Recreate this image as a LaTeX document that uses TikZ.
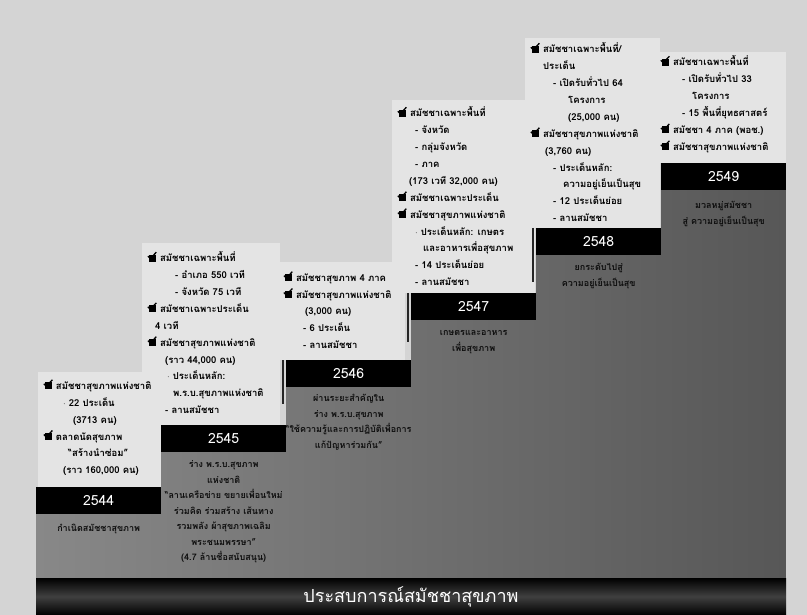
\documentclass[tikz,border=0pt]{standalone}
\usepackage{fontspec}
\setmainfont[Script=Thai]{Loma}
\usetikzlibrary{positioning}
\definecolor{paper}{HTML}{D4D4D4}
\definecolor{panel}{HTML}{E4E4E4}
\definecolor{bodyleft}{HTML}{888888}
\definecolor{bodyright}{HTML}{575757}
\definecolor{ink}{HTML}{0E0E0E}
\newcommand{\chk}{\tikz[baseline=0pt]{\fill[black] (0pt,0pt) rectangle (7pt,7pt);
    \draw[black,line width=1.3pt] (-1pt,5.5pt) -- (1.5pt,3pt) -- (7.5pt,9.5pt);}\hspace{3pt}}
\newcommand{\dotitem}{$\cdot$\hspace{3pt}}
\tikzset{
  yearbar/.style={fill=black, text=white, anchor=north west, inner sep=0pt,
    minimum width=125pt, minimum height=27pt, font=\fontsize{14}{14}\selectfont},
  notes/.style={anchor=south west, align=left, inner sep=0pt, text=black,
    font=\bfseries\fontsize{9.5}{16.9}\selectfont},
  caption/.style={align=center, inner sep=0pt, text=ink,
    font=\bfseries\fontsize{9}{15.5}\selectfont},
  shadowline/.style={line width=2.5pt, black!85},
}
\begin{document}
\begin{tikzpicture}[x=1pt, y=-1pt]
  \def\base{578}
  \fill[paper] (0,0) rectangle (807,615);
  \useasboundingbox (0,0) rectangle (807,615);
  % light panels behind the notes
  \fill[panel] (38,372) rectangle (161,487);
  \fill[panel] (142,243) rectangle (280,425);
  \fill[panel] (278,262) rectangle (405,360);
  \fill[panel] (392,100) rectangle (535,293);
  \fill[panel] (525,38) rectangle (660,228);
  \fill[panel] (652,52) rectangle (786,163);
  % staircase
  \shade[left color=bodyleft, right color=bodyright]
    (36,\base) -- (36,514) -- (161,514) -- (161,452) -- (286,452) -- (286,387)
    -- (411,387) -- (411,320) -- (536,320) -- (536,255) -- (661,255) -- (661,190)
    -- (786,190) -- (786,\base) -- cycle;
  \draw[shadowline] (283,360) -- (283,404);
  \draw[shadowline] (408,293) -- (408,342);
  \draw[shadowline] (533,228) -- (533,282);
  % year bars
  \node[yearbar] (b2544) at (36,487) {2544};
  \node[yearbar] (b2545) at (161,425) {2545};
  \node[yearbar] (b2546) at (286,360) {2546};
  \node[yearbar] (b2547) at (411,293) {2547};
  \node[yearbar] (b2548) at (536,228) {2548};
  \node[yearbar] (b2549) at (661,163) {2549};
  % notes above the bars
  \node[notes] (n2544) at (43,476) {\chk สมัชชาสุขภาพแห่งชาติ\\
    \hspace*{20pt}\dotitem 22 ประเด็น\\
    \hspace*{30pt}(3713 คน)\\
    \chk ตลาดนัดสุขภาพ\\
    \hspace*{25pt}“สร้างนำซ่อม”\\
    \hspace*{20pt}(ราว 160,000 คน)};
  \node[notes] (n2545) at (147,414) {\chk สมัชชาเฉพาะพื้นที่\\
    \hspace*{28pt}- อำเภอ 550 เวที\\
    \hspace*{28pt}- จังหวัด 75 เวที\\
    \chk สมัชชาเฉพาะประเด็น\\
    \hspace*{8pt}4 เวที\\
    \chk สมัชชาสุขภาพแห่งชาติ\\
    \hspace*{18pt}(ราว 44,000 คน)\\
    \hspace*{20pt}\dotitem ประเด็นหลัก:\\
    \hspace*{26pt}พ.ร.บ.สุขภาพแห่งชาติ\\
    \hspace*{18pt}- ลานสมัชชา};
  \node[notes] (n2546) at (283,349) {\chk สมัชชาสุขภาพ 4 ภาค\\
    \chk สมัชชาสุขภาพแห่งชาติ\\
    \hspace*{22pt}(3,000 คน)\\
    \hspace*{20pt}- 6 ประเด็น\\
    \hspace*{20pt}- ลานสมัชชา};
  \node[notes] (n2547) at (397,286) {\chk สมัชชาเฉพาะพื้นที่\\
    \hspace*{18pt}- จังหวัด\\
    \hspace*{18pt}- กลุ่มจังหวัด\\
    \hspace*{18pt}- ภาค\\
    \hspace*{12pt}(173 เวที 32,000 คน)\\
    \chk สมัชชาเฉพาะประเด็น\\
    \chk สมัชชาสุขภาพแห่งชาติ\\
    \hspace*{18pt}\dotitem ประเด็นหลัก: เกษตร\\
    \hspace*{26pt}และอาหารเพื่อสุขภาพ\\
    \hspace*{18pt}- 14 ประเด็นย่อย\\
    \hspace*{18pt}- ลานสมัชชา};
  \node[notes] (n2548) at (530,222) {\chk สมัชชาเฉพาะพื้นที่/\\
    \hspace*{13pt}ประเด็น\\
    \hspace*{23pt}- เปิดรับทั่วไป 64\\
    \hspace*{38pt}โครงการ\\
    \hspace*{38pt}(25,000 คน)\\
    \chk สมัชชาสุขภาพแห่งชาติ\\
    \hspace*{15pt}(3,760 คน)\\
    \hspace*{23pt}- ประเด็นหลัก:\\
    \hspace*{33pt}ความอยู่เย็นเป็นสุข\\
    \hspace*{23pt}- 12 ประเด็นย่อย\\
    \hspace*{23pt}- ลานสมัชชา};
  \node[notes] (n2549) at (660,153) {\chk สมัชชาเฉพาะพื้นที่\\
    \hspace*{22pt}- เปิดรับทั่วไป 33\\
    \hspace*{32pt}โครงการ\\
    \hspace*{22pt}- 15 พื้นที่ยุทธศาสตร์\\
    \chk สมัชชา 4 ภาค (พอช.)\\
    \chk สมัชชาสุขภาพแห่งชาติ};
  % captions under the bars
  \node[caption, below=10pt of b2544] (c2544) {กำเนิดสมัชชาสุขภาพ};
  \node[caption, below=8pt of b2545] (c2545) {ร่าง พ.ร.บ.สุขภาพ\\ แห่งชาติ\\
    “ลานเครือข่าย ขยายเพื่อนใหม่\\ ร่วมคิด ร่วมสร้าง เส้นทาง\\
    รวมพลัง ผ้าสุขภาพเฉลิม\\ พระชนมพรรษา”\\ (4.7 ล้านชื่อสนับสนุน)};
  \node[caption, below=7pt of b2546] (c2546) {ผ่านระยะสำคัญใน\\ ร่าง พ.ร.บ.สุขภาพ\\
    “ใช้ความรู้และการปฏิบัติเพื่อการ\\ แก้ปัญหาร่วมกัน”};
  \node[caption, below=10pt of b2547] (c2547) {เกษตรและอาหาร\\ เพื่อสุขภาพ};
  \node[caption, below=8pt of b2548] (c2548) {ยกระดับไปสู่\\ ความอยู่เย็นเป็นสุข};
  \node[caption, below=11pt of b2549] (c2549) {มวลหมู่สมัชชา\\ สู่ ความอยู่เย็นเป็นสุข};
  % bottom band
  \shade[top color=black, bottom color=black, middle color=black!75!white]
    (36,\base) rectangle (786,615);
  \node[text=white, font=\fontsize{18}{18}\selectfont] (title) at (411,597) {ประสบการณ์สมัชชาสุขภาพ};
\end{tikzpicture}
\end{document}
